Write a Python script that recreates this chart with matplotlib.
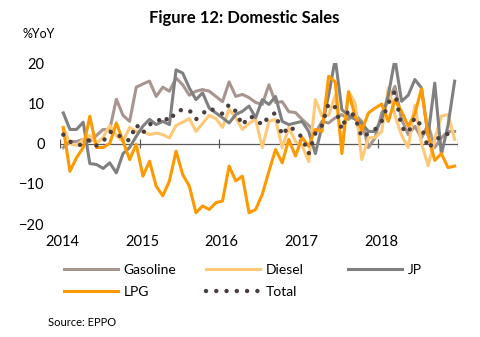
import numpy as np
import matplotlib
matplotlib.use("Agg")
import matplotlib.pyplot as plt

plt.rcParams["font.family"] = ["Lato", "DejaVu Sans"]

# monthly %YoY, Jan 2014 - Dec 2018
years = ["2014", "2015", "2016", "2017", "2018"]

gasoline = [-1, 0.5, 0.5, 1, 0.5, 2, 3.5, 3.5, 11, 7, 5.5, 14,
            14.8, 15.5, 11.7, 14, 13, 16.3, 14.6, 12, 13, 13.4, 13, 11.7,
            10.4, 15.3, 11.7, 12.2, 11.4, 10.2, 9.7, 14.6, 10.2, 10.4, 7.9, 7.7,
            6, 4.5, 2.6, 5.5, 5.1, 6.4, 7.2, 6, 7.2, 5.5, -1, 1.4,
            7.6, 10.5, 14.2, 6, 2.2, 4.3, 1.4, 4.7, -1, 1.4, 3, 3]

diesel = [4, 0, -0.5, 1, 2, 0, 1.5, 4.5, 2, 0.5, 4, 3,
          3, 2.2, 2.6, 2.2, 1.4, 4.5, 5.3, 6.2, 3, 5, 7, 6.2,
          4, 8.5, 6.4, 3.5, 5, 6, -1, 5.5, 6, -1, 4, 0.5,
          -0.5, -4.5, 10.9, 6.8, 7, 12, -1, 13, 10, -4, 1.4, 1.5,
          3, 13.8, 7, 2, -1, 9.5, 0, -5.5, 1, 6.8, 7.2, 1]

jp = [7.6, 3.5, 3.5, 5.3, -5, -5.2, -6.2, -4.8, -7.3, -2.5, -1, 1.8,
      4.3, 6, 4.7, 5.5, 4.7, 18.3, 17.5, 13.8, 10.9, 12.6, 8.8, 7.6,
      6.4, 5.1, 7.2, 8, 9.3, 6.4, 10.9, 9.7, 11.7, 5.5, 4.7, 5.1,
      5.5, 3, -2.5, 4.3, 12, 21, 8.4, 7, 6, 5, 3, 3,
      6, 12, 21, 10.5, 12, 15.9, 13.8, 2, 15, -2.7, 4.5, 15.5]

lpg = [3.9, -6.9, -3.5, -1, 6.8, -1, -1, 0, 5.1, 0.6, -4, -0.2,
       -8.1, -4.4, -10.6, -13, -9.3, -1.9, -7.7, -10.6, -17.2, -15.5, -16.4, -14.7,
       -14.3, -5.6, -9.3, -8.1, -17.2, -16.4, -12.6, -6.9, -1.5, -4.8, 1, -3.1,
       1.5, -0.7, 3.5, 3, 16.7, 15.3, -2.5, 12.8, 6.8, 3.2, 7.6, 8.8,
       9.8, 5.5, 10.8, 8, 4.3, 7.4, 13.6, 2, -4.2, -2.5, -6, -5.6]

total = [2.2, 0.5, -0.4, -0.3, 1, -0.5, 0.5, 2.9, 2.7, 1, 0.8, 4.7,
         2.6, 4.8, 5, 6.8, 5.5, 8, 8.4, 8.3, 6, 7.4, 8.8, 8,
         7.4, 9.7, 8, 4.5, 6.8, 6.2, 4.5, 6.8, 7.6, 2, 4.3, 3.2,
         1.5, -2.5, 2.5, 4.5, 10, 9, 3.5, 8.5, 6.5, 1.5, 2.5, 3.5,
         5.5, 10, 13, 4, 2.6, 6.5, 4.3, -1.2, 0.5, 2, 2.4, 2.6]

c_gas = "#a8958f"
c_die = "#ffc978"
c_jp = "#808080"
c_lpg = "#ff9900"
c_tot = "#4b3e3f"

x = np.arange(len(total)) + 0.5

fig = plt.figure(figsize=(4.81, 3.37), dpi=100)
ax = fig.add_axes([0.1247, 0.3353, 0.8274, 0.4777])

lw = 2.2
ax.plot(x, gasoline, color=c_gas, lw=lw, label="Gasoline")
ax.plot(x, diesel, color=c_die, lw=lw, label="Diesel")
ax.plot(x, jp, color=c_jp, lw=lw, label="JP")
ax.plot(x, lpg, color=c_lpg, lw=lw, label="LPG")
ax.plot(x, total, color=c_tot, lw=3.2, linestyle=(0, (0.01, 2.3)),
        dash_capstyle="round", label="Total")

# zero line with year tick marks
ax.axhline(0, color="#595959", lw=0.9, zorder=1)
ax.vlines(np.arange(0, 61, 12), -1.2, 1.2, color="#595959", lw=0.9, zorder=1)

ax.set_xlim(0, 60)
ax.set_ylim(-20, 20)
ax.set_yticks([-20, -10, 0, 10, 20])
ax.set_xticks(np.arange(0, 60, 12) + 0.4)
ax.set_xticklabels(years)
ax.tick_params(axis="both", length=0, labelsize=10.5, colors="black")
ax.tick_params(axis="y", pad=11)
ax.tick_params(axis="x", pad=8)
for s in ax.spines.values():
    s.set_visible(False)

fig.text(0.508, 0.948, "Figure 12: Domestic Sales", ha="center", va="center",
         fontsize=12, fontweight="bold")
fig.text(0.046, 0.898, "%YoY", ha="left", va="center", fontsize=9)
fig.text(0.1, 0.042, "Source: EPPO", ha="left", va="center", fontsize=8)

# legend, three columns
h = {l.get_label(): l for l in ax.get_lines()}
cols = [(["Gasoline", "LPG"], 0.133), (["Diesel", "Total"], 0.428), (["JP"], 0.724)]
for names, xl in cols:
    fig.legend([h[n] for n in names], names, loc="upper left",
               bbox_to_anchor=(xl, 0.217), frameon=False, fontsize=10,
               handlelength=3.9, handletextpad=0.4, labelspacing=0.72,
               borderaxespad=0, borderpad=0)

fig.savefig("out.png", dpi=100)
